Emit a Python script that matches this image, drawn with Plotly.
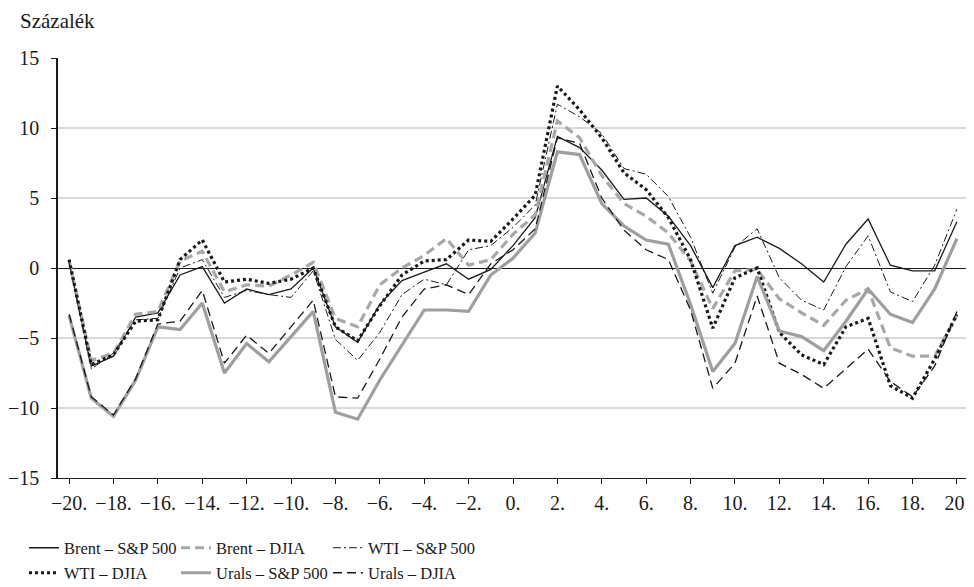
import plotly.graph_objects as go

days = list(range(-20, 21))

brent_sp = [0.4, -7.0, -6.3, -3.5, -3.2, -0.5, 0.1, -2.5, -1.5, -1.9, -1.5, 0.0, -4.2, -5.3, -2.6,
            -0.9, -0.3, 0.3, -0.8, -0.1, 1.6, 3.6, 9.4, 8.6, 7.0, 4.9, 5.0, 3.7, 1.6, -1.4,
            1.6, 2.2, 1.4, 0.3, -1.0, 1.7, 3.5, 0.2, -0.2, -0.2, 3.3]
brent_djia = [0.5, -6.6, -6.1, -3.3, -3.1, 0.5, 1.2, -1.7, -1.2, -1.3, -0.5, 0.4, -3.6, -4.2, -1.2,
              0.0, 0.9, 2.1, 0.2, 0.6, 2.4, 3.8, 10.5, 9.3, 6.6, 4.6, 3.7, 2.5, 0.5, -2.9,
              -0.2, -0.1, -2.2, -3.2, -4.1, -2.3, -1.5, -5.7, -6.3, -6.3, -3.4]
wti_sp = [0.4, -7.2, -6.1, -3.7, -3.6, 0.0, 0.6, -2.1, -1.6, -1.9, -2.1, -0.2, -5.1, -6.6, -4.6,
          -1.9, -0.8, -1.2, 1.3, 1.6, 2.9, 4.5, 11.7, 10.8, 9.6, 7.1, 6.7, 5.1, 2.2, -1.8,
          1.5, 2.8, -0.7, -2.3, -3.0, 0.1, 2.3, -1.7, -2.4, 0.2, 4.2]
wti_djia = [0.6, -6.9, -6.2, -3.8, -3.7, 0.6, 2.0, -1.0, -0.8, -1.1, -0.8, 0.0, -4.2, -5.2, -2.7,
            -0.5, 0.5, 0.6, 2.0, 1.9, 3.5, 5.2, 13.0, 11.3, 9.3, 6.8, 5.6, 3.6, 0.6, -4.3,
            -0.7, 0.0, -4.6, -6.2, -6.9, -4.2, -3.6, -8.4, -9.3, -6.5, -3.3]
urals_sp = [-3.4, -9.3, -10.6, -8.0, -4.2, -4.4, -2.5, -7.5, -5.4, -6.7, -4.9, -3.1, -10.3, -10.8, -8.0,
            -5.5, -3.0, -3.0, -3.1, -0.5, 0.7, 2.5, 8.3, 8.1, 4.6, 3.0, 2.0, 1.7, -2.6, -7.4,
            -5.4, -0.6, -4.5, -4.9, -5.9, -3.8, -1.5, -3.3, -3.9, -1.5, 2.1]
urals_djia = [-3.3, -9.2, -10.5, -7.9, -4.0, -3.8, -1.6, -6.8, -4.8, -6.1, -4.2, -2.3, -9.2, -9.3, -6.5,
              -3.5, -1.5, -1.2, -1.9, 0.3, 1.3, 2.8, 9.3, 8.9, 5.0, 2.7, 1.3, 0.6, -3.0, -8.6,
              -6.8, -2.0, -6.8, -7.6, -8.6, -7.2, -5.8, -8.1, -9.2, -7.0, -3.1]

series_names = ["Brent – S&P 500", "Brent – DJIA", "WTI – S&P 500",
                "WTI – DJIA", "Urals – S&P 500", "Urals – DJIA"]
series_values = [brent_sp, brent_djia, wti_sp, wti_djia, urals_sp, urals_djia]

x_tick_vals = list(range(-20, 21, 2))
x_tick_text = [("−" if v < 0 else "") + f"{abs(v)}." for v in x_tick_vals]
y_tick_vals = [-15, -10, -5, 0, 5, 10, 15]
y_tick_text = [("−" if v < 0 else "") + str(abs(v)) for v in y_tick_vals]

styles = [
    dict(color="#1a1a1a", width=1.3, dash="solid"),
    dict(color="#a8a8a8", width=3.2, dash="9px,5px"),
    dict(color="#1a1a1a", width=1.0, dash="8px,3px,2px,3px"),
    dict(color="#1a1a1a", width=3.2, dash="3px,3px"),
    dict(color="#9f9f9f", width=3.2, dash="solid"),
    dict(color="#1a1a1a", width=1.3, dash="9px,5px"),
]

fig = go.Figure()
for i, (name, vals) in enumerate(zip(series_names, series_values)):
    fig.add_trace(go.Scatter(
        x=days, y=vals, name=name, mode="lines",
        line=styles[i],
        legend="legend" if i < 3 else "legend2",
    ))

font_family = "Liberation Serif, DejaVu Serif, serif"

# page body adds an 8px offset; figure is sized to fill the rest of the window
W, H = 966, 579

legend_common = dict(orientation="h", xref="container", yref="container",
                     x=16 / W, xanchor="left", yanchor="middle",
                     entrywidth=107, font=dict(size=16.5), traceorder="normal",
                     bgcolor="rgba(0,0,0,0)")

fig.update_layout(
    width=W, height=H,
    margin=dict(l=50, r=6, t=50, b=109, autoexpand=False),
    paper_bgcolor="white", plot_bgcolor="white",
    font=dict(family=font_family, size=18, color="#1a1a1a"),
    showlegend=True,
    legend=dict(legend_common, y=1 - 540 / H),
    legend2=dict(legend_common, y=1 - 565 / H),
    xaxis=dict(range=[-20.5, 20.5], tickmode="array", tickvals=x_tick_vals, ticktext=x_tick_text,
               showgrid=False, zeroline=False, showline=True, linecolor="#1a1a1a", linewidth=1.2,
               ticks="outside", ticklen=5, tickcolor="#1a1a1a", tickfont=dict(size=20),
               ticklabelstandoff=2, ticklabeloverflow="allow", fixedrange=True),
    yaxis=dict(range=[-15, 15], tickmode="array", tickvals=y_tick_vals, ticktext=y_tick_text,
               showgrid=True, gridcolor="#d9d9d9", gridwidth=1.5,
               zeroline=True, zerolinecolor="#1a1a1a", zerolinewidth=1.2,
               showline=True, linecolor="#1a1a1a", linewidth=1.5,
               ticks="outside", ticklen=5, tickcolor="#1a1a1a", tickfont=dict(size=20),
               ticklabelstandoff=8, fixedrange=True),
    annotations=[dict(text="Százalék", xref="paper", yref="paper", x=0, y=1,
                      xanchor="left", yanchor="bottom", xshift=-40, yshift=23,
                      showarrow=False, font=dict(size=21, family=font_family))],
)

fig.write_html("out.html")
